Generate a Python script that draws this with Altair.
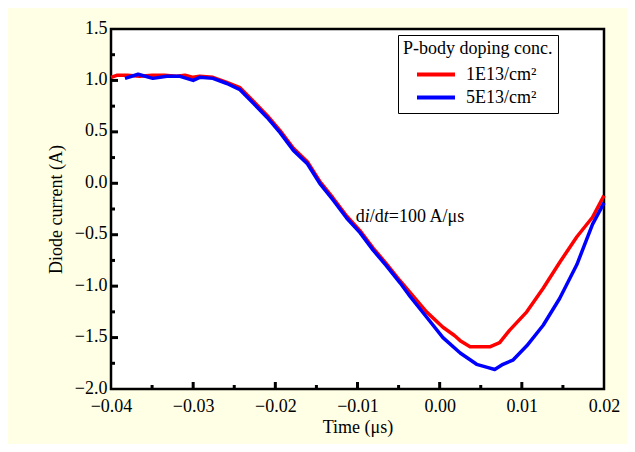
import altair as alt
import pandas as pd

# ---- data ----
series_names = ["1E13/cm²", "5E13/cm²"]
series_colors = ["#ff0000", "#0000ff"]

t_1e13 = [-0.0400, -0.0393, -0.0380, -0.0365, -0.0350, -0.0335, -0.0320, -0.0310,
          -0.0300, -0.0292, -0.0276, -0.0259, -0.0243, -0.0227, -0.0210, -0.0194,
          -0.0178, -0.0161, -0.0146, -0.0130, -0.0113, -0.0097, -0.0081, -0.0065,
          -0.0048, -0.0032, -0.0016, 0.0004, 0.0018, 0.0025, 0.0037, 0.0061,
          0.0073, 0.0085, 0.0106, 0.0126, 0.0146, 0.0167, 0.0186, 0.0200]
i_1e13 = [1.03, 1.05, 1.05, 1.04, 1.05, 1.05, 1.04, 1.05,
          1.03, 1.04, 1.03, 0.98, 0.93, 0.80, 0.66, 0.51,
          0.34, 0.21, 0.02, -0.14, -0.32, -0.46, -0.63, -0.78,
          -0.95, -1.10, -1.25, -1.40, -1.48, -1.53, -1.59, -1.59,
          -1.55, -1.43, -1.25, -1.02, -0.77, -0.52, -0.33, -0.12]

t_5e13 = [-0.0383, -0.0367, -0.0349, -0.0332, -0.0316, -0.0300, -0.0292, -0.0276,
          -0.0259, -0.0243, -0.0227, -0.0210, -0.0194, -0.0178, -0.0161, -0.0146,
          -0.0130, -0.0113, -0.0097, -0.0081, -0.0065, -0.0048, -0.0036, -0.0016,
          0.0004, 0.0025, 0.0045, 0.0058, 0.0067, 0.0077, 0.0089, 0.0106,
          0.0126, 0.0146, 0.0167, 0.0186, 0.0200]
i_5e13 = [1.02, 1.06, 1.02, 1.04, 1.04, 1.00, 1.03, 1.02,
          0.97, 0.91, 0.78, 0.64, 0.49, 0.32, 0.19, 0.00,
          -0.16, -0.34, -0.48, -0.65, -0.80, -0.97, -1.10, -1.30,
          -1.50, -1.65, -1.76, -1.79, -1.81, -1.76, -1.72, -1.58,
          -1.38, -1.12, -0.79, -0.40, -0.19]

x_labels = [-0.04, -0.03, -0.02, -0.01, 0.0, 0.01, 0.02]
y_labels = [-2.0, -1.5, -1.0, -0.5, 0.0, 0.5, 1.0, 1.5]
x_major = [-0.03, -0.02, -0.01, 0.0, 0.01]
x_minor = [-0.035, -0.025, -0.015, -0.005, 0.005, 0.015]
y_major = [-1.5, -1.0, -0.5, 0.0, 0.5, 1.0]
y_minor = [-1.75, -1.25, -0.75, -0.25, 0.25, 0.75, 1.25]

ann_t = -0.0102
ann_i = -0.376
ann_parts = ["d", "i", "/d", "t", "=100 A/μs"]
ann_italic = [False, True, False, True, False]
ann_dx = [0, 9, 14, 28, 33]

# ---- build tables ----
df = pd.concat([
    pd.DataFrame({"t": t_1e13, "i": i_1e13, "s": series_names[0]}),
    pd.DataFrame({"t": t_5e13, "i": i_5e13, "s": series_names[1]}),
])

W, H = 493, 360
FONT = "Liberation Serif"

xs = alt.Scale(domain=[-0.04, 0.02], nice=False, zero=False)
ys = alt.Scale(domain=[-2.0, 1.5], nice=False, zero=False)
xaxis = alt.Axis(title="Time (μs)", values=x_labels, format=".2f", ticks=False,
                 domain=False, grid=False, labelFlush=False, labelOverlap=False,
                 labelPadding=8, titlePadding=3)
yaxis = alt.Axis(title="Diode current (A)", values=y_labels, format=".1f", ticks=False,
                 domain=False, grid=False, labelFlush=False, labelOverlap=False,
                 labelPadding=4, titlePadding=9, labelOffset=-1)
X = alt.X("t:Q", scale=xs, axis=xaxis)
Y = alt.Y("i:Q", scale=ys, axis=yaxis)

legend = alt.Legend(
    title="P-body doping conc.", orient="none", legendX=287, legendY=6,
    titleFont=FONT, titleFontSize=18, titleFontWeight="normal", titleColor="black",
    labelFont=FONT, labelFontSize=18, labelColor="black",
    symbolType="stroke", symbolStrokeWidth=4, symbolSize=1444,
    clipHeight=21, rowPadding=2, titlePadding=6, padding=5,
    strokeColor="black", fillColor="white", symbolOffset=12, labelOffset=9,
)

lines = alt.Chart(df).mark_line(strokeWidth=3.5, strokeJoin="round").encode(
    x=X, y=Y,
    color=alt.Color("s:N", scale=alt.Scale(domain=series_names, range=series_colors),
                    legend=legend),
    order=alt.Order("t:Q"),
)

xmaj = alt.Chart(pd.DataFrame({"t": x_major})).mark_rule(color="black", strokeWidth=3).encode(
    x=X, y=alt.value(H), y2=alt.value(H - 7))
xmin = alt.Chart(pd.DataFrame({"t": x_minor})).mark_rule(color="black", strokeWidth=3).encode(
    x=X, y=alt.value(H), y2=alt.value(H - 4))
ymaj = alt.Chart(pd.DataFrame({"i": y_major})).mark_rule(color="black", strokeWidth=3).encode(
    y=Y, x=alt.value(0), x2=alt.value(7))
ymin = alt.Chart(pd.DataFrame({"i": y_minor})).mark_rule(color="black", strokeWidth=3).encode(
    y=Y, x=alt.value(0), x2=alt.value(4))

ann_layers = []
for part, ital, dx in zip(ann_parts, ann_italic, ann_dx):
    ann_layers.append(
        alt.Chart(pd.DataFrame({"t": [ann_t], "i": [ann_i], "txt": [part]})).mark_text(
            font=FONT, fontSize=18, fontStyle="italic" if ital else "normal",
            align="left", baseline="alphabetic", dx=dx, color="black",
        ).encode(x=X, y=Y, text="txt:N")
    )

chart = alt.layer(lines, xmaj, xmin, ymaj, ymin, *ann_layers).properties(
    width=W, height=H,
    autosize=alt.AutoSizeParams(type="none"),
    padding={"left": 103, "top": 21, "right": 23, "bottom": 55},
    background="#FFFFE6",
).configure_view(
    stroke="black", strokeWidth=2.5, fill="white"
).configure_axis(
    labelFont=FONT, labelFontSize=18, labelColor="black",
    titleFont=FONT, titleFontSize=18, titleFontWeight="normal", titleColor="black",
)

chart.save("out.html", embed_options={"renderer": "svg", "actions": False})
